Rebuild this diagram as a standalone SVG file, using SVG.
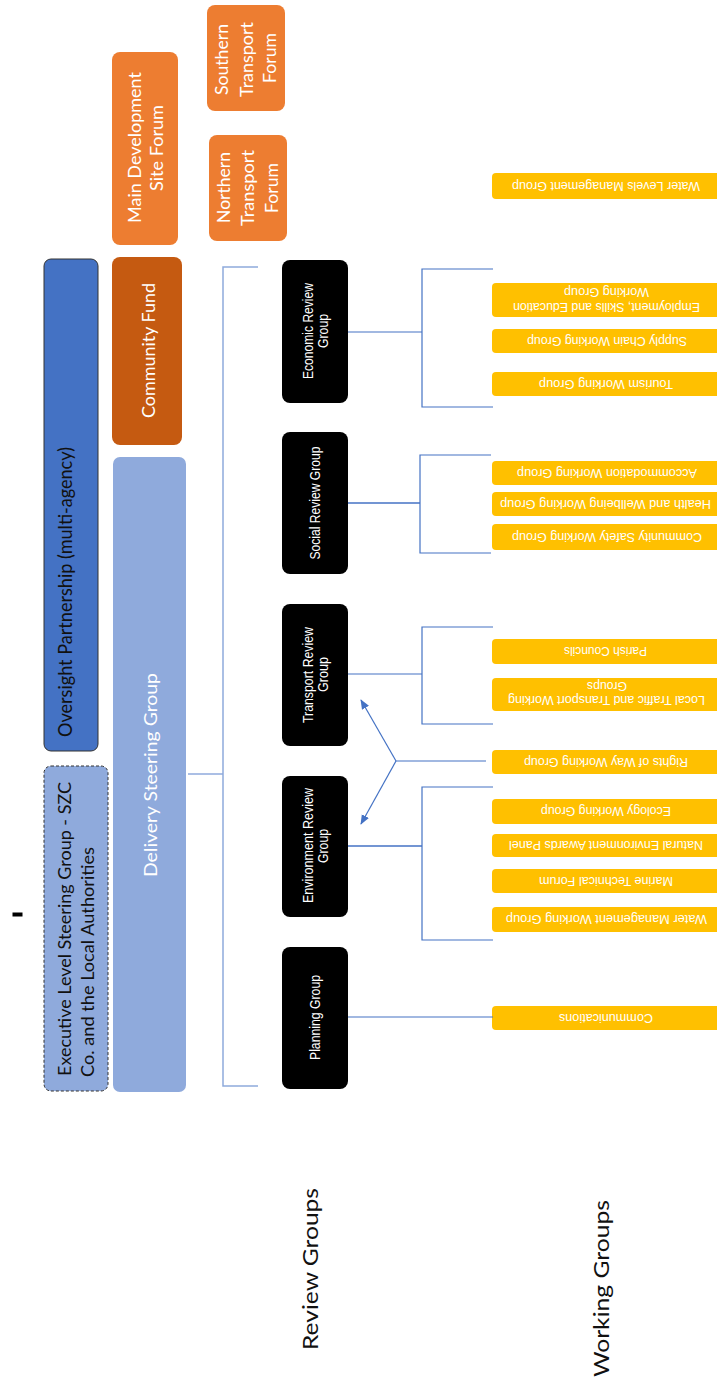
<svg xmlns="http://www.w3.org/2000/svg" width="717" height="1382" viewBox="0 0 717 1382">
<style>
.big{font-family:Lato,"Open Sans","Liberation Sans",sans-serif;font-size:18px;text-anchor:middle}
.w{fill:#ffffff}
.k{fill:#111111}
.rg{font-family:"Liberation Sans",Arial,sans-serif;font-size:14px;fill:#ffffff;text-anchor:middle}
.wg{font-family:"Liberation Sans",Arial,sans-serif;font-size:12.5px;fill:#ffffff;text-anchor:middle}
.orange{fill:#ED7D31}
.blk{fill:#000000}
.yel{fill:#FFC000}
.main{fill:none;stroke:#8FAADC;stroke-width:1.5}
.sub{fill:none;stroke:#4472C4;stroke-width:1.2}
</style>
<defs>
<marker id="arr" markerUnits="userSpaceOnUse" markerWidth="10" markerHeight="10" viewBox="0 0 10 10" refX="9" refY="5" orient="auto">
<path d="M0,1 L10,5 L0,9 z" fill="#4472C4"/>
</marker>
</defs>
<rect width="717" height="1382" fill="#ffffff"/>
<rect x="12.5" y="912.5" width="10" height="4" fill="#000000"/>

<g id="southern-transport-forum">
<rect class="orange" x="207" y="5" width="78" height="106" rx="8"/>
<text class="big w" transform="translate(228,59.5) rotate(-90)" textLength="71" lengthAdjust="spacingAndGlyphs">Southern</text>
<text class="big w" transform="translate(253,59.5) rotate(-90)" textLength="75" lengthAdjust="spacingAndGlyphs">Transport</text>
<text class="big w" transform="translate(276,58) rotate(-90)" textLength="50" lengthAdjust="spacingAndGlyphs">Forum</text>
</g>
<g id="main-development-site-forum">
<rect class="orange" x="112" y="52" width="66" height="193" rx="8"/>
<text class="big w" transform="translate(141,147.5) rotate(-90)" textLength="151" lengthAdjust="spacingAndGlyphs">Main Development</text>
<text class="big w" transform="translate(163,148) rotate(-90)" textLength="86" lengthAdjust="spacingAndGlyphs">Site Forum</text>
</g>
<g id="northern-transport-forum">
<rect class="orange" x="209" y="135" width="78" height="106" rx="8"/>
<text class="big w" transform="translate(230,187.5) rotate(-90)" textLength="71" lengthAdjust="spacingAndGlyphs">Northern</text>
<text class="big w" transform="translate(254,188) rotate(-90)" textLength="76" lengthAdjust="spacingAndGlyphs">Transport</text>
<text class="big w" transform="translate(278,188) rotate(-90)" textLength="50" lengthAdjust="spacingAndGlyphs">Forum</text>
</g>
<g id="oversight-partnership">
<rect x="44" y="259" width="54" height="492" rx="7" fill="#4472C4" stroke="#333333" stroke-width="1"/>
<text class="big k" style="font-size:20px" transform="translate(72,592) rotate(-90)" textLength="290" lengthAdjust="spacingAndGlyphs">Oversight Partnership (multi-agency)</text>
</g>
<g id="community-fund">
<rect x="112" y="257" width="70" height="188" rx="8" fill="#C55A11"/>
<text class="big w" transform="translate(155,350.5) rotate(-90)" textLength="135" lengthAdjust="spacingAndGlyphs">Community Fund</text>
</g>
<g id="delivery-steering-group">
<rect x="113" y="457" width="73" height="635" rx="7" fill="#8FAADC"/>
<text class="big w" transform="translate(156.5,775) rotate(-90)" textLength="204" lengthAdjust="spacingAndGlyphs">Delivery Steering Group</text>
</g>
<g id="executive-level-steering-group">
<rect x="44" y="766" width="64" height="325" rx="7" fill="#8FAADC" stroke="#333333" stroke-width="1" stroke-dasharray="3,2"/>
<text class="big k" style="text-anchor:start" transform="translate(71,1076) rotate(-90)" textLength="294" lengthAdjust="spacingAndGlyphs">Executive Level Steering Group - SZC</text>
<text class="big k" style="text-anchor:start" transform="translate(94,1077) rotate(-90)" textLength="230" lengthAdjust="spacingAndGlyphs">Co. and the Local Authorities</text>
</g>

<g id="economic-review-group">
<rect class="blk" x="282" y="260" width="66" height="143" rx="8"/>
<text class="rg" transform="translate(313,331) rotate(-90)" textLength="96" lengthAdjust="spacingAndGlyphs">Economic Review</text>
<text class="rg" transform="translate(327.5,331) rotate(-90)" textLength="34" lengthAdjust="spacingAndGlyphs">Group</text>
</g>
<g id="social-review-group">
<rect class="blk" x="282" y="432" width="66" height="142" rx="8"/>
<text class="rg" transform="translate(320,503) rotate(-90)" textLength="113" lengthAdjust="spacingAndGlyphs">Social Review Group</text>
</g>
<g id="transport-review-group">
<rect class="blk" x="282" y="604" width="66" height="142" rx="8"/>
<text class="rg" transform="translate(313,675) rotate(-90)" textLength="96" lengthAdjust="spacingAndGlyphs">Transport Review</text>
<text class="rg" transform="translate(327.5,674.5) rotate(-90)" textLength="35" lengthAdjust="spacingAndGlyphs">Group</text>
</g>
<g id="environment-review-group">
<rect class="blk" x="282" y="776" width="66" height="141" rx="8"/>
<text class="rg" transform="translate(313,845.5) rotate(-90)" textLength="115" lengthAdjust="spacingAndGlyphs">Environment Review</text>
<text class="rg" transform="translate(327.5,846) rotate(-90)" textLength="34" lengthAdjust="spacingAndGlyphs">Group</text>
</g>
<g id="planning-group">
<rect class="blk" x="282" y="947" width="66" height="142" rx="8"/>
<text class="rg" transform="translate(320,1017.5) rotate(-90)" textLength="85" lengthAdjust="spacingAndGlyphs">Planning Group</text>
</g>

<g id="water-levels-management-group">
<rect class="yel" x="492" y="173" width="240" height="26" rx="4"/>
<text class="wg" transform="translate(606,181.5) rotate(180)" textLength="188" lengthAdjust="spacingAndGlyphs">Water Levels Management Group</text>
</g>
<g id="employment-skills-education-working-group">
<rect class="yel" x="492" y="283" width="240" height="34" rx="4"/>
<text class="wg" transform="translate(606.5,302.5) rotate(180)" textLength="187" lengthAdjust="spacingAndGlyphs">Employment, Skills and Education</text>
<text class="wg" transform="translate(606.5,287.5) rotate(180)" textLength="85" lengthAdjust="spacingAndGlyphs">Working Group</text>
</g>
<g id="supply-chain-working-group">
<rect class="yel" x="492" y="329" width="240" height="24" rx="4"/>
<text class="wg" transform="translate(607,336.5) rotate(180)" textLength="160" lengthAdjust="spacingAndGlyphs">Supply Chain Working Group</text>
</g>
<g id="tourism-working-group">
<rect class="yel" x="492" y="372" width="240" height="24" rx="4"/>
<text class="wg" transform="translate(606,379.5) rotate(180)" textLength="134" lengthAdjust="spacingAndGlyphs">Tourism Working Group</text>
</g>
<g id="accommodation-working-group">
<rect class="yel" x="492" y="461" width="240" height="24" rx="4"/>
<text class="wg" transform="translate(607,468.5) rotate(180)" textLength="180" lengthAdjust="spacingAndGlyphs">Accommodation Working Group</text>
</g>
<g id="health-wellbeing-working-group">
<rect class="yel" x="492" y="492" width="240" height="24" rx="4"/>
<text class="wg" transform="translate(605.5,499.5) rotate(180)" textLength="211" lengthAdjust="spacingAndGlyphs">Health and Wellbeing  Working Group</text>
</g>
<g id="community-safety-working-group">
<rect class="yel" x="492" y="524" width="240" height="26" rx="4"/>
<text class="wg" transform="translate(607,532.5) rotate(180)" textLength="190" lengthAdjust="spacingAndGlyphs">Community Safety Working Group</text>
</g>
<g id="parish-councils">
<rect class="yel" x="492" y="639" width="240" height="25" rx="4"/>
<text class="wg" transform="translate(605.5,647) rotate(180)" textLength="83" lengthAdjust="spacingAndGlyphs">Parish Councils</text>
</g>
<g id="local-traffic-transport-working-groups">
<rect class="yel" x="492" y="678" width="240" height="33" rx="4"/>
<text class="wg" transform="translate(606.5,696) rotate(180)" textLength="197" lengthAdjust="spacingAndGlyphs">Local Traffic and Transport Working</text>
<text class="wg" transform="translate(607,682) rotate(180)" textLength="40" lengthAdjust="spacingAndGlyphs">Groups</text>
</g>
<g id="rights-of-way-working-group">
<rect class="yel" x="492" y="750" width="240" height="24" rx="4"/>
<text class="wg" transform="translate(606,757.5) rotate(180)" textLength="164" lengthAdjust="spacingAndGlyphs">Rights of Way Working Group</text>
</g>
<g id="ecology-working-group">
<rect class="yel" x="492" y="799" width="240" height="25" rx="4"/>
<text class="wg" transform="translate(606,807) rotate(180)" textLength="130" lengthAdjust="spacingAndGlyphs">Ecology Working Group</text>
</g>
<g id="natural-environment-awards-panel">
<rect class="yel" x="492" y="834" width="240" height="23" rx="4"/>
<text class="wg" transform="translate(606,841) rotate(180)" textLength="194" lengthAdjust="spacingAndGlyphs">Natural Environment Awards Panel</text>
</g>
<g id="marine-technical-forum">
<rect class="yel" x="492" y="869" width="240" height="24" rx="4"/>
<text class="wg" transform="translate(606,876.5) rotate(180)" textLength="134" lengthAdjust="spacingAndGlyphs">Marine Technical Forum</text>
</g>
<g id="water-management-working-group">
<rect class="yel" x="492" y="907" width="240" height="25" rx="4"/>
<text class="wg" transform="translate(606.5,915) rotate(180)" textLength="201" lengthAdjust="spacingAndGlyphs">Water Management Working Group</text>
</g>
<g id="communications">
<rect class="yel" x="492" y="1006" width="240" height="24" rx="4"/>
<text class="wg" transform="translate(606,1013.5) rotate(180)" textLength="94" lengthAdjust="spacingAndGlyphs">Communications</text>
</g>

<g id="labels">
<text class="big k" style="font-size:22px" transform="translate(317.5,1269) rotate(-90)" textLength="162" lengthAdjust="spacingAndGlyphs">Review Groups</text>
<text class="big k" style="font-size:22px" transform="translate(609,1288.5) rotate(-90)" textLength="177" lengthAdjust="spacingAndGlyphs">Working Groups</text>
</g>

<g id="connectors">
<path class="main" d="M188,774 H223"/>
<path class="main" d="M258,267 H223 V1086 H258"/>
<path class="sub" d="M348,332 H422"/>
<path class="sub" d="M493,269 H422 V407 H493"/>
<path class="sub" style="stroke-width:1.6" d="M348,503 H420"/>
<path class="sub" d="M491,455 H420 V553 H491"/>
<path class="sub" d="M348,674 H422"/>
<path class="sub" d="M493,627 H422 V724 H493"/>
<path class="sub" style="stroke-width:1.6" d="M348,846 H422"/>
<path class="sub" d="M493,787 H422 V940 H493"/>
<path class="sub" d="M348,1017 H493"/>
<path class="sub" d="M486,761 H396"/>
<path class="sub" d="M396,761 L361,700" marker-end="url(#arr)"/>
<path class="sub" d="M396,761 L361,824" marker-end="url(#arr)"/>
</g>
</svg>
